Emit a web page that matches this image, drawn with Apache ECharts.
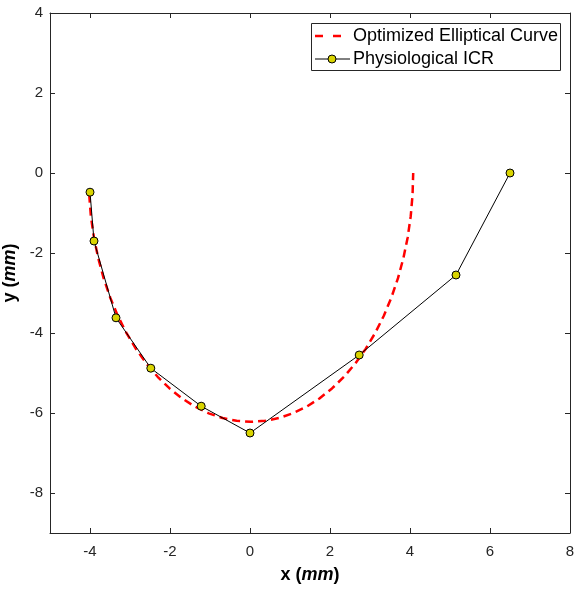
<!DOCTYPE html>
<html>
<head>
<meta charset="utf-8">
<script src="https://cdn.jsdelivr.net/npm/echarts@6/dist/echarts.min.js"></script>
<style>html,body{margin:0;padding:0;background:#fff}#c{width:574px;height:590px}</style>
</head>
<body>
<div id="c"></div>
<script>
// Physiological ICR points
const icrX = [-4.0, -3.9, -3.35, -2.48, -1.22, 0.0, 2.73, 5.15, 6.5];
const icrY = [-0.48, -1.7, -3.62, -4.88, -5.83, -6.5, -4.55, -2.55, 0.0];
// Optimized elliptical curve
const ellX = [-4.02, -3.978, -3.902, -3.795, -3.66, -3.496, -3.306, -3.09, -2.851, -2.59, -2.309, -2.01, -1.696, -1.369, -1.031, -0.685, -0.334, 0.02, 0.374, 0.725, 1.071, 1.409, 1.736, 2.05, 2.349, 2.63, 2.891, 3.13, 3.346, 3.536, 3.70, 3.835, 3.942, 4.018, 4.064, 4.08];
const ellY = [-0.542, -1.08, -1.61, -2.127, -2.629, -3.11, -3.568, -3.998, -4.398, -4.765, -5.095, -5.387, -5.637, -5.845, -6.008, -6.126, -6.196, -6.22, -6.196, -6.126, -6.008, -5.845, -5.637, -5.387, -5.095, -4.765, -4.398, -3.998, -3.568, -3.11, -2.629, -2.127, -1.61, -1.08, -0.542, 0.0];
const xMin = -5, xMax = 8, yMin = -9, yMax = 4;
const xTicks = [-4, -2, 0, 2, 4, 6, 8];
const yTicks = [-8, -6, -4, -2, 0, 2, 4];
const seriesNames = ['Optimized Elliptical Curve', 'Physiological ICR'];

const font = 'Liberation Sans, Arial, Helvetica, sans-serif';
const axisColor = '#262626';
const redColor = '#ff0000';
const markerColor = '#d9d400';
const chart = echarts.init(document.getElementById('c'), null, {renderer: 'canvas'});
const ellData = ellX.map((x, i) => [x, ellY[i]]);
const icrData = icrX.map((x, i) => [x, icrY[i]]);

const tick = list => ({show: true, inside: true, length: 5, lineStyle: {color: axisColor}, customValues: list});
const line = {show: true, onZero: false, lineStyle: {color: axisColor, width: 1}};
const nameRich = {
  b: {fontFamily: font, fontSize: 18, fontWeight: 'bold', color: '#000'},
  bi: {fontFamily: font, fontSize: 18, fontWeight: 'bold', fontStyle: 'italic', color: '#000'}
};

// Legend box (drawn as graphic)
const lgL = 311, lgT = 23, lgW = 249, lgH = 47;
const lgRow1 = 36, lgRow2 = 59;
const graphic = [
  {type: 'rect', shape: {x: lgL + 0.5, y: lgT + 0.5, width: lgW, height: lgH},
   style: {fill: '#fff', stroke: axisColor, lineWidth: 1}, z: 100},
  {type: 'line', shape: {x1: 315, y1: lgRow1, x2: 342, y2: lgRow1},
   style: {stroke: redColor, lineWidth: 2.5, lineDash: [8, 10]}, z: 101},
  {type: 'text', x: 353, y: lgRow1, style: {text: seriesNames[0], font: '18px ' + font, fill: '#000', textVerticalAlign: 'middle', verticalAlign: 'middle'}, z: 101},
  {type: 'line', shape: {x1: 315, y1: lgRow2, x2: 350, y2: lgRow2},
   style: {stroke: '#000', lineWidth: 1}, z: 101},
  {type: 'circle', shape: {cx: 332, cy: lgRow2, r: 4},
   style: {fill: markerColor, stroke: '#000', lineWidth: 1}, z: 102},
  {type: 'text', x: 353, y: lgRow2, style: {text: seriesNames[1], font: '18px ' + font, fill: '#000', textVerticalAlign: 'middle', verticalAlign: 'middle'}, z: 101}
];

chart.setOption({
  animation: false,
  backgroundColor: '#fff',
  grid: {left: 50, right: 4, top: 13, bottom: 57, containLabel: false, outerBoundsMode: 'none'},
  graphic: graphic,
  xAxis: [
    {
      type: 'value', min: xMin, max: xMax, interval: 1, position: 'bottom',
      axisLine: line, splitLine: {show: false}, axisTick: tick(xTicks),
      name: '{b|x (}{bi|mm}{b|)}', nameLocation: 'middle', nameGap: 33,
      nameTextStyle: {rich: nameRich},
      axisLabel: {fontFamily: font, fontSize: 15, color: axisColor, margin: 11, customValues: xTicks,
        formatter: v => String(v)}
    },
    {
      type: 'value', min: xMin, max: xMax, interval: 1, position: 'top',
      axisLine: line, splitLine: {show: false}, axisTick: tick(xTicks),
      axisLabel: {show: false}
    }
  ],
  yAxis: [
    {
      type: 'value', min: yMin, max: yMax, interval: 1, position: 'left',
      axisLine: line, splitLine: {show: false}, axisTick: tick(yTicks),
      name: '{b|y (}{bi|mm}{b|)}', nameLocation: 'middle', nameGap: 26, nameRotate: 90,
      nameTextStyle: {rich: nameRich},
      axisLabel: {fontFamily: font, fontSize: 15, color: axisColor, margin: 7, customValues: yTicks,
        formatter: v => String(v)}
    },
    {
      type: 'value', min: yMin, max: yMax, interval: 1, position: 'right',
      axisLine: line, splitLine: {show: false}, axisTick: tick(yTicks),
      axisLabel: {show: false}
    }
  ],
  series: [
    {
      name: seriesNames[0], type: 'line', data: ellData,
      showSymbol: false, symbol: 'none', smooth: false,
      lineStyle: {color: redColor, width: 2.5, type: [8, 5]},
      itemStyle: {color: redColor},
      z: 2
    },
    {
      name: seriesNames[1], type: 'line', data: icrData,
      symbol: 'circle', symbolSize: 8, showSymbol: true,
      lineStyle: {color: '#000', width: 1},
      itemStyle: {color: markerColor, borderColor: '#000', borderWidth: 1},
      z: 3
    }
  ]
});
</script>
</body>
</html>
